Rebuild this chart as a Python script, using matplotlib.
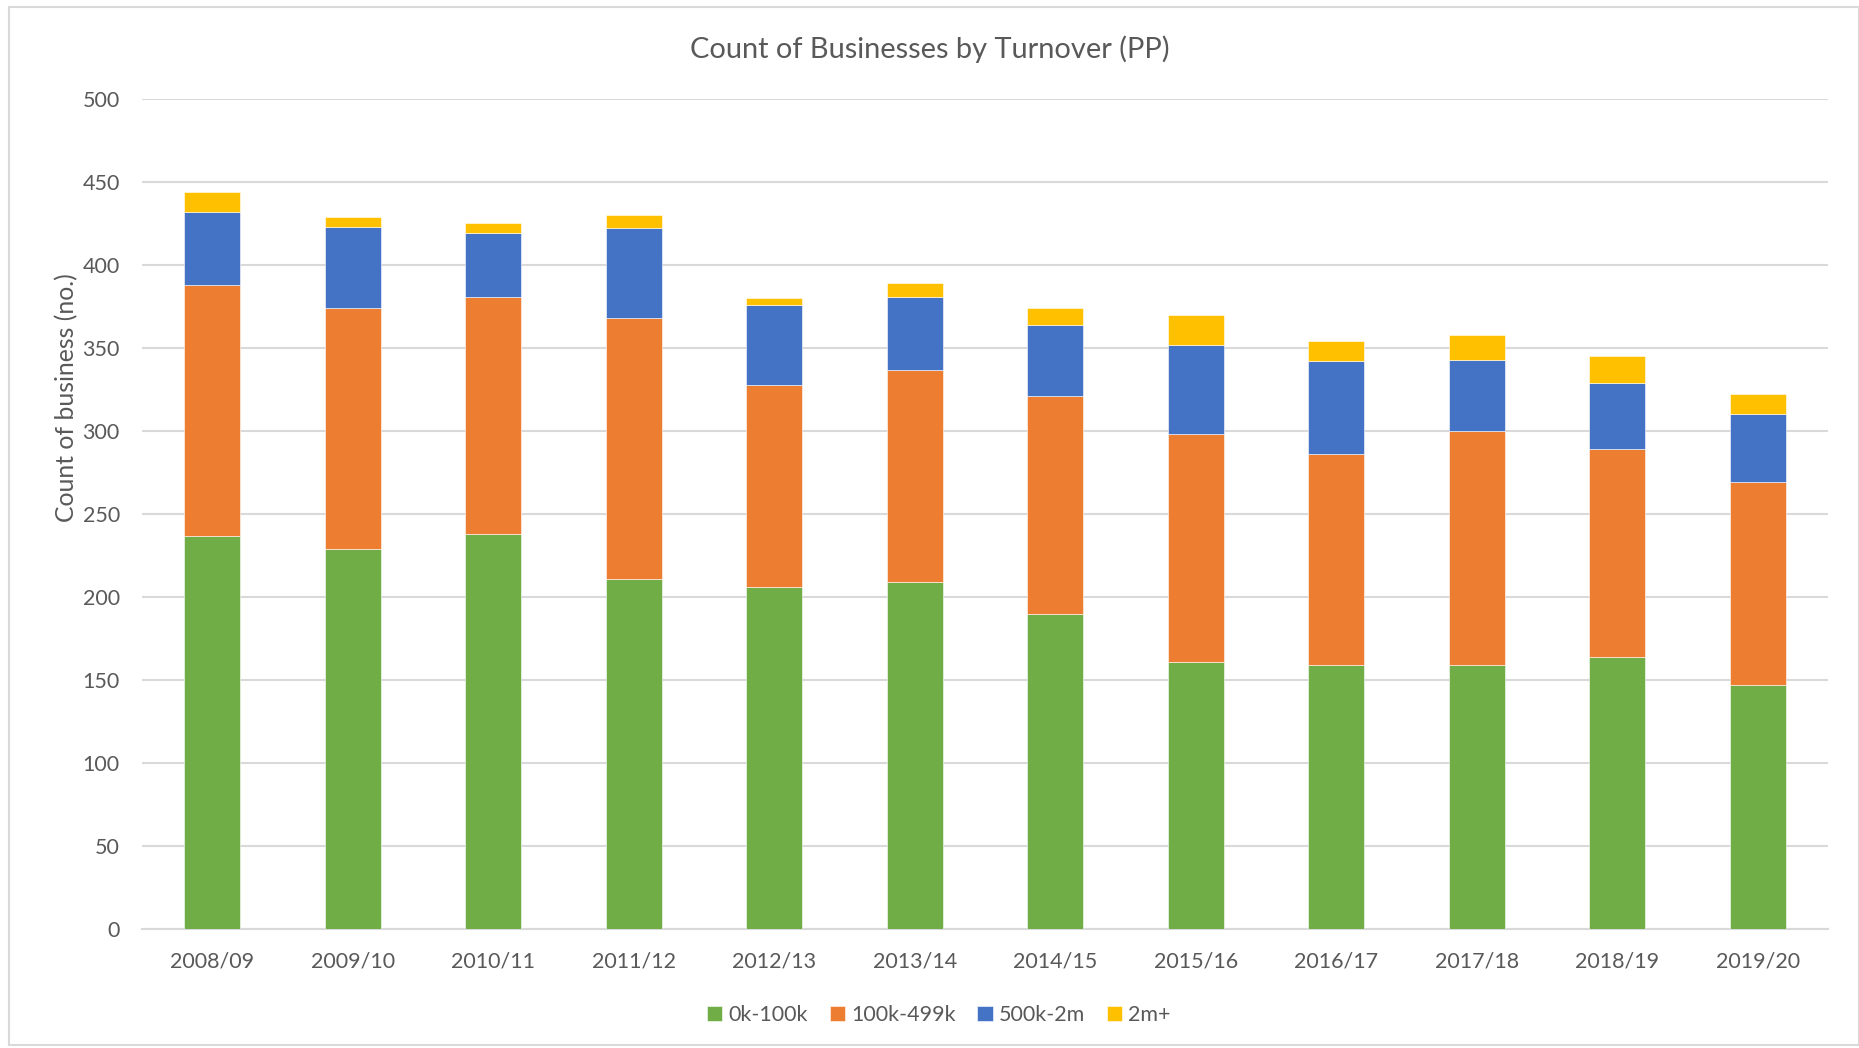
import matplotlib
matplotlib.use("Agg")
import matplotlib.pyplot as plt
from matplotlib.patches import Rectangle
import numpy as np

# ===== data =====
years = ["2008/09", "2009/10", "2010/11", "2011/12", "2012/13", "2013/14",
         "2014/15", "2015/16", "2016/17", "2017/18", "2018/19", "2019/20"]
band_0_100k = [237, 229, 238, 211, 206, 209, 190, 161, 159, 159, 164, 147]
band_100_499k = [151, 145, 143, 157, 122, 128, 131, 137, 127, 141, 125, 122]
band_500k_2m = [44, 49, 38, 54, 48, 44, 43, 54, 56, 43, 40, 41]
band_2m_plus = [12, 6, 6, 8, 4, 8, 10, 18, 12, 15, 16, 12]

series = [
    ("0k-100k", band_0_100k, "#70AD47"),
    ("100k-499k", band_100_499k, "#ED7D31"),
    ("500k-2m", band_500k_2m, "#4472C4"),
    ("2m+", band_2m_plus, "#FFC000"),
]

plt.rcParams["font.family"] = ["Lato", "DejaVu Sans"]
TEXT = "#595959"
GRID = "#D9D9D9"

fig = plt.figure(figsize=(18.59, 10.48), dpi=100)
ax = fig.add_axes([142 / 1859, 1 - 929 / 1048, 1686 / 1859, 830 / 1048])

# chart border
fig.patches.append(Rectangle((9 / 1859, 0.003), 1 - 9 / 1859, 1 - 7 / 1048 - 0.003,
                             transform=fig.transFigure, fill=False,
                             edgecolor=GRID, linewidth=1.5))

x = np.arange(len(years))
bottom = np.zeros(len(years))
for name, vals, col in series:
    ax.bar(x, vals, width=0.4, bottom=bottom, color=col, label=name,
           edgecolor="white", linewidth=0.4, zorder=3)
    bottom += np.array(vals)

ax.set_xlim(-0.5, len(years) - 0.5)
ax.set_ylim(0, 500)
ax.set_yticks(range(0, 501, 50))
ax.set_xticks(x)
ax.set_xticklabels(years)
ax.grid(axis="y", color=GRID, linewidth=1.5, zorder=0)
for s in ["top", "right", "left"]:
    ax.spines[s].set_visible(False)
ax.spines["bottom"].set_color(GRID)
ax.spines["bottom"].set_linewidth(1.5)
ax.tick_params(length=0, labelsize=15.5, colors=TEXT, pad=16)
ax.tick_params(axis="y", pad=16)

ax.set_ylabel("Count of business (no.)", fontsize=17.8, color=TEXT)
ax.yaxis.set_label_coords(-0.038, 0.64)
fig.text(0.5, 1 - 49 / 1048, "Count of Businesses by Turnover (PP)",
         ha="center", va="center", fontsize=20.9, color=TEXT)

fig.legend(loc="center", bbox_to_anchor=(792 / 1568, 1 - 1015 / 1048), ncol=4,
           frameon=False, fontsize=15.5, labelcolor=TEXT, handlelength=0.7,
           handleheight=0.7, handletextpad=0.3, columnspacing=1.0)

plt.savefig("out.png", dpi=100)
